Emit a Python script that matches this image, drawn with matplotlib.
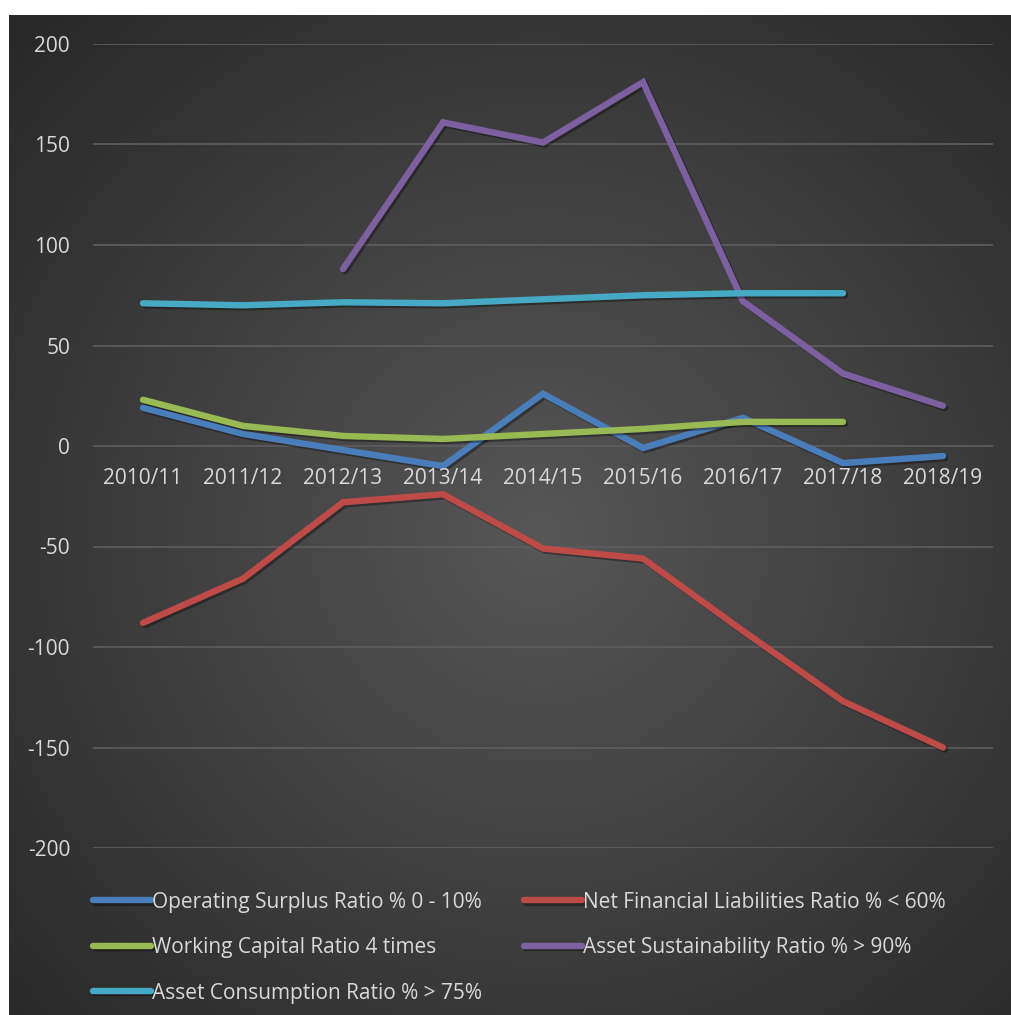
import numpy as np
import matplotlib

matplotlib.use("Agg")
import matplotlib.pyplot as plt
import matplotlib.patheffects as pe

plt.rcParams["font.family"] = ["Open Sans", "DejaVu Sans"]
plt.rcParams["axes.unicode_minus"] = False

# --- data -------------------------------------------------------------
years = ["2010/11", "2011/12", "2012/13", "2013/14", "2014/15",
         "2015/16", "2016/17", "2017/18", "2018/19"]
operating_surplus = [19, 6, -2, -10, 26, -1, 14, -8.5, -5]
net_fin_liab = [-88, -66, -28, -24, -51, -56, -92, -127, -150]
working_capital = [23, 10, 5, 3.5, 6, 8.5, 12, 12, np.nan]
asset_sustain = [np.nan, np.nan, 88, 161, 151, 181, 72, 36, 20]
asset_consump = [71, 70, 71.5, 71, 73, 75, 76, 76, np.nan]

series = [
    ("Operating Surplus Ratio % 0 - 10%", operating_surplus, "#4a7ebb"),
    ("Net Financial Liabilities Ratio % < 60%", net_fin_liab, "#be4b48"),
    ("Working Capital Ratio 4 times", working_capital, "#98b954"),
    ("Asset Sustainability Ratio % > 90%", asset_sustain, "#7d60a0"),
    ("Asset Consumption Ratio % > 75%", asset_consump, "#46aac5"),
]

W, H = 1011, 1015
fig = plt.figure(figsize=(W / 100, H / 100), dpi=100)
fig.patch.set_facecolor("white")

# dark radial-gradient background panel
bg = fig.add_axes([9 / W, 0, (W - 9) / W, (H - 15) / H])
yy, xx = np.mgrid[0:1:400j, 0:1:400j]
r = np.sqrt((xx - 0.53) ** 2 + (yy - 0.48) ** 2) / 0.72
r = np.clip(r, 0, 1)
center, edge = np.array([0.34, 0.34, 0.34]), np.array([0.16, 0.16, 0.16])
img = center[None, None, :] * (1 - r[..., None]) + edge[None, None, :] * r[..., None]
bg.imshow(img, extent=[0, 1, 0, 1], aspect="auto", origin="lower")
bg.set_axis_off()

# main plot area
ax = fig.add_axes([93 / W, 1 - 848 / H, 900 / W, 804 / H])
ax.set_facecolor("none")
x = np.arange(len(years))
ax.set_xlim(-0.5, len(years) - 0.5)
ax.set_ylim(-200, 200)
ax.set_yticks(np.arange(-200, 201, 50))
ax.yaxis.grid(True, color="#5e5e5e", linewidth=1.2)
ax.set_axisbelow(True)
for s in ax.spines.values():
    s.set_visible(False)
ax.tick_params(axis="y", length=0, pad=16.5, labelsize=15, labelcolor="#d9d9d9")
ax.set_xticks([])

handles = {}
for label, vals, color in series:
    (ln,) = ax.plot(x, vals, color=color, lw=4.6, solid_capstyle="round",
                    solid_joinstyle="miter", label=label,
                    path_effects=[pe.SimpleLineShadow(offset=(1.5, -1.5), alpha=0.35, shadow_color="black"),
                                  pe.Normal()])
    handles[label] = ln

# category labels sit just under the zero line
for xi, yr in zip(x, years):
    ax.annotate(yr, (xi, 0), xytext=(0, -15.5), textcoords="offset points",
                ha="center", va="top", fontsize=15, color="#d9d9d9")

order = [0, 2, 4, 1, 3]
labels = [series[i][0] for i in order]
leg = fig.legend([handles[l] for l in labels], labels, ncol=2,
                 loc="upper left", bbox_to_anchor=(74 / W, 1 - 873 / H),
                 frameon=False, fontsize=15, labelcolor="#d9d9d9",
                 handlelength=2.8, handletextpad=0.05, columnspacing=2.0,
                 labelspacing=1.17)

fig.savefig("out.png", dpi=100, facecolor=fig.get_facecolor())
